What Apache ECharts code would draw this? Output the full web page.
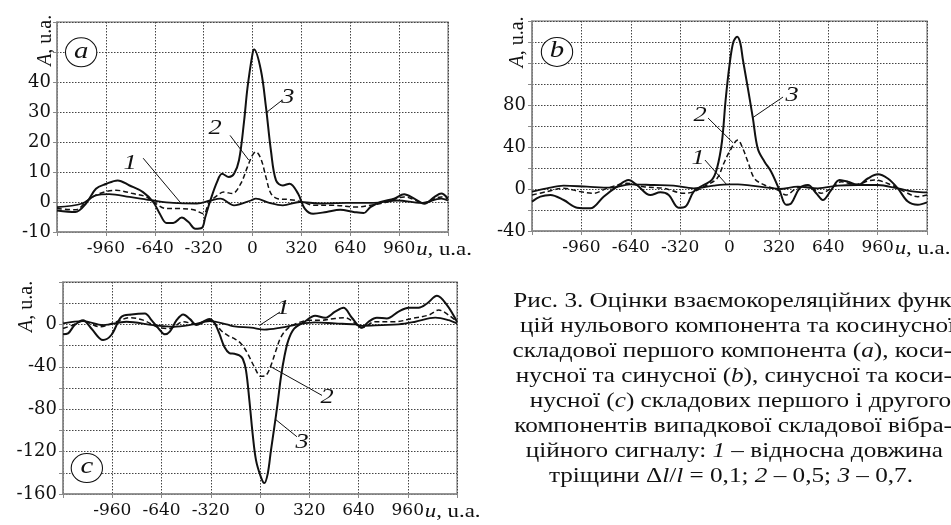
<!DOCTYPE html>
<html>
<head>
<meta charset="utf-8">
<script src="https://cdn.jsdelivr.net/npm/echarts@6/dist/echarts.min.js"></script>
<style>
html, body { margin: 0; padding: 0; background: #fff; }
#main { width: 951px; height: 525px; }
</style>
</head>
<body>
<div id="main"></div>
<script>
// вісь u, u.a. (однакова для всіх панелей)
var xMin = -1280, xMax = 1280, xStep = 320;
var xLabels = [-960, -640, -320, 0, 320, 640, 960];

// панель (a)
var yLabA = [-10, 0, 10, 20, 30, 40];
var a1 = [[-1280,-1.7],[-1115,-0.5],[-1026,2.2],[-938,2.6],[-805,1.7],[-650,0.5],[-519,-0.3],[-364,-0.5],[-276,0.5],[-210,1.1],[-121,-1.1],[-11,0.5],[22,1.1],[110,-0.3],[198,-1.1],[309,0],[441,-0.5],[618,-0.3],[795,-0.3],[949,0.5],[1103,-0.3],[1236,1.1],[1280,0.5]];
var a2 = [[-1280,-2.2],[-1160,-2.6],[-1081,0.5],[-1004,2.8],[-894,3.9],[-783,2.8],[-695,1.7],[-640,-0.3],[-563,-2.2],[-474,-2.2],[-386,-2.6],[-320,-3.9],[-287,-0.5],[-243,1.7],[-188,3.3],[-132,2.8],[-77,6.1],[-33,11.7],[0,15.6],[22,16.7],[55,14.4],[88,8.3],[121,2.8],[165,1.1],[243,0.8],[331,0],[397,-1.1],[530,-1.1],[684,-1.7],[772,-1.1],[883,0],[993,1.7],[1125,-0.3],[1236,1.7],[1280,1.1]];
var a3 = [[-1280,-2.8],[-1160,-3.3],[-1090,-0.5],[-1025,4.4],[-960,6],[-883,7.2],[-805,5.5],[-717,3.3],[-650,0],[-607,-3.9],[-563,-7],[-519,-7],[-463,-5.2],[-419,-6.7],[-375,-8.9],[-331,-8.6],[-309,-5],[-276,0.5],[-232,6.7],[-199,9.4],[-155,8.3],[-121,9.4],[-88,14],[-55,27],[-33,38],[0,49.4],[11,50.8],[55,43.9],[88,31.7],[121,17],[154,7.2],[198,5.5],[243,6.1],[298,2.8],[342,-2.2],[397,-3.9],[485,-3.3],[574,-2.6],[662,-3.3],[728,-3.7],[772,-1.7],[839,0],[927,1.1],[993,2.6],[1059,1.1],[1125,-0.6],[1192,1.7],[1236,2.8],[1280,1.1]];

// панель (b)
var yLabB = [-40, 0, 40, 80];
var b1 = [[-1280,-2.5],[-1183,0.6],[-1075,3.2],[-924,2.2],[-772,1.3],[-643,4.4],[-492,3.8],[-362,3.2],[-232,0.6],[-103,3.2],[0,4.4],[54,4.4],[140,3.2],[248,1.3],[324,0],[443,2.2],[572,0.6],[702,3.2],[832,3.8],[961,3.8],[1091,0.6],[1199,-2.5],[1280,-3.2]];
var b2 = [[-1280,-5.7],[-1183,-2.5],[-1075,0.6],[-967,-2.5],[-880,-4],[-794,0.6],[-665,5.4],[-557,2.2],[-427,0.6],[-297,-4],[-232,-2.5],[-146,3.8],[-81,10],[-38,24],[0,35.6],[54,46.7],[86,38.7],[119,26],[162,10],[227,3.8],[313,-1],[367,-5.7],[432,0.6],[508,3.2],[594,-4],[659,0.6],[724,7],[810,4.4],[940,8.6],[1048,3.8],[1134,-2.5],[1220,-7.3],[1280,-5.7]];
var b3 = [[-1280,-12],[-1226,-7.3],[-1161,-5.7],[-1075,-10.5],[-988,-17.8],[-902,-18.4],[-816,-7.3],[-729,2.2],[-654,8.6],[-600,3.8],[-513,-5.7],[-448,-3.2],[-394,-5.7],[-330,-17.8],[-286,-16.8],[-232,-2.5],[-168,3.8],[-114,8.6],[-81,19.7],[-49,45],[-25,85],[0,118],[25,140],[50,145],[70,139],[86,124],[119,96],[151,68],[184,38],[227,26],[270,16.5],[324,-1],[367,-15],[400,-13.7],[454,0.6],[508,3.8],[562,-4],[605,-10.5],[659,-1],[713,8.6],[767,7],[832,3.8],[896,10],[961,14],[1026,10],[1091,0.6],[1156,-12],[1220,-15],[1280,-12.7]];

// панель (c)
var yLabC = [-160, -120, -80, -40, 0];
var c1 = [[-1280,0.9],[-1150,3.1],[-1020,-0.6],[-868,2.5],[-694,-0.6],[-564,-2.2],[-434,0],[-325,3.1],[-217,0],[-166,-1.9],[-58,-3.1],[28,-5],[136,-3.1],[244,0],[358,1.9],[488,0.9],[618,0],[662,-1.3],[792,-0.6],[900,0],[1009,2.5],[1139,6.3],[1226,4],[1280,0.9]];
var c2 = [[-1280,-3.8],[-1215,-0.6],[-1150,3.1],[-1041,-2.2],[-933,2.5],[-846,6.3],[-759,4],[-651,-3.1],[-586,-3.8],[-499,2.5],[-412,0],[-325,4],[-296,1.3],[-253,-5.7],[-210,-10.4],[-166,-13.5],[-123,-18.2],[-80,-27.7],[-37,-40],[6,-49],[39,-48],[71,-38.7],[104,-24.5],[136,-12],[179,-4],[233,0.6],[326,4],[401,4],[488,5.6],[553,6.3],[618,1],[662,-3.1],[749,2.5],[879,2.5],[987,5.6],[1096,8.8],[1161,13.5],[1226,8.8],[1280,2.5]];
var c3 = [[-1280,-9.4],[-1247,-8.5],[-1204,-0.6],[-1150,4],[-1096,-3.8],[-1020,-14.7],[-966,-10],[-900,7.2],[-835,9.4],[-748,10.3],[-705,4],[-651,-5.3],[-618,-9.4],[-586,-6.9],[-542,4],[-499,9.4],[-455,5],[-412,-0.6],[-369,2.5],[-330,5],[-296,1.3],[-264,-8.8],[-231,-21.4],[-199,-27],[-166,-27.7],[-134,-29.2],[-112,-32.4],[-91,-43.4],[-69,-71.7],[-48,-103],[-26,-128],[6,-144],[28,-149.7],[50,-141],[71,-119],[93,-97],[114,-75],[136,-49.7],[158,-30.8],[184,-15],[222,-4],[287,2.2],[358,8.2],[423,6.3],[488,12],[542,15.7],[597,6.3],[662,-3.1],[705,2.5],[759,6.3],[824,5.6],[900,12],[966,15.7],[1031,15.7],[1085,19.7],[1150,27],[1215,18.2],[1280,2.5]];

// номери кривих: текст, позиція тексту, початок і кінець виноски
var notesA = [['1', [-801,12.9], [-716,14.6], [-470,-0.3]], ['2', [-245,24.6], [-147,22.2], [-25,14]], ['3', [232,34.9], [193,33.9], [95,30]]];
var notesB = [['1', [-204,29.5], [-159,27.6], [-16,3.8]], ['2', [-191,70.5], [-139,67.6], [23,44]], ['3', [405,89.5], [347,87.6], [151,68]]];
var notesC = [['1', [150,15.5], [130,11.7], [-4,-1]], ['2', [436,-69], [403,-67], [71,-40]], ['3', [273,-111], [240,-106], [104,-90]]];
var tagPos = [[-1122,49.9], [-1118,130.5], [-1125,-135.5]];
var tagText = ['a', 'b', 'c'];

var caption = [
    'Рис. 3. Оцінки взаємокореляційних функ-',
    'цій нульового компонента та косинусної',
    'складової першого компонента ({i|a}), коси-',
    'нусної та синусної ({i|b}), синусної та коси-',
    'нусної ({i|c}) складових першого і другого',
    'компонентів випадкової складової вібра-',
    'ційного сигналу: {i|1} – відносна довжина',
    'тріщини Δ{i|l}/{i|l} = 0,1; {i|2} – 0,5; {i|3} – 0,7.'
];
var captionRight = [960, 955, 952, 952, 951, 952, 943, 913];

var NUM_FONT = '"DejaVu Serif", serif';
var TXT_FONT = '"Liberation Serif", "Times New Roman", serif';
var WIDE = 1.2; // оригінал трохи розтягнутий по горизонталі

var chart = echarts.init(document.getElementById('main'));

var grids = [
    { left: 57, top: 22, width: 391, height: 210 },
    { left: 532, top: 21, width: 395, height: 210 },
    { left: 63, top: 282, width: 394, height: 212 }
];
grids.forEach(function (g) {
    g.show = true;
    g.borderColor = '#9a9a9a';
    g.borderWidth = 1.5;
    g.backgroundColor = 'transparent';
});

function makeX(i) {
    return {
        type: 'value', gridIndex: i, min: xMin, max: xMax, interval: xStep,
        axisLine: { show: true, onZero: false, lineStyle: { color: '#8a8a8a', width: 1.5 } },
        axisTick: { show: true, length: 4, lineStyle: { color: '#8a8a8a' } },
        axisLabel: {
            margin: 8, color: '#111', fontFamily: NUM_FONT, fontSize: 17,
            formatter: function (v) { return xLabels.indexOf(v) >= 0 ? String(v) : ''; }
        },
        splitLine: { show: true, lineStyle: { color: '#444', type: [1.5, 1.5], width: 1 } }
    };
}
function makeY(i, min, max, step, labels) {
    return {
        type: 'value', gridIndex: i, min: min, max: max, interval: step,
        axisLine: { show: true, onZero: false, lineStyle: { color: '#8a8a8a', width: 1.5 } },
        axisTick: { show: true, length: 4, lineStyle: { color: '#8a8a8a' } },
        axisLabel: {
            margin: 6, color: '#111', fontFamily: NUM_FONT, fontSize: 18,
            formatter: function (v) { return labels.indexOf(v) >= 0 ? String(v) : ''; }
        },
        splitLine: { show: true, lineStyle: { color: '#444', type: [1.5, 1.5], width: 1 } }
    };
}

function curve(i, data, kind) {
    var ls = { color: '#111', width: 1.8, type: 'solid' };
    if (kind == 2) { ls.width = 1.5; ls.type = [5, 3]; }
    if (kind == 3) { ls.width = 2; }
    return {
        type: 'line', xAxisIndex: i, yAxisIndex: i, data: data,
        showSymbol: false, smooth: 0.35, lineStyle: ls, silent: true, animation: false
    };
}

chart.setOption({
    animation: false,
    grid: grids,
    xAxis: [makeX(0), makeX(1), makeX(2)],
    yAxis: [makeY(0, -10, 60, 10, yLabA), makeY(1, -40, 160, 20, yLabB), makeY(2, -160, 40, 20, yLabC)],
    series: [
        curve(0, a1, 1), curve(0, a2, 2), curve(0, a3, 3),
        curve(1, b1, 1), curve(1, b2, 2), curve(1, b3, 3),
        curve(2, c1, 1), curve(2, c2, 2), curve(2, c3, 3)
    ]
});

// підписи, виноски, кружечки
var g = [];
function px(i, p) { return chart.convertToPixel({ gridIndex: i }, p); }
function txt(x, y, text, size, align, extra) {
    var el = {
        type: 'text', x: x, y: y, silent: true,
        style: {
            text: text, fill: '#111', font: size + 'px ' + TXT_FONT,
            align: align, textAlign: align, verticalAlign: 'middle', textVerticalAlign: 'middle',
            rich: { i: { fontStyle: 'italic', fontSize: size, fontFamily: TXT_FONT } }
        }
    };
    if (extra) for (var k in extra) el[k] = extra[k];
    return el;
}

[notesA, notesB, notesC].forEach(function (notes, i) {
    notes.forEach(function (n) {
        var t = px(i, n[1]), p1 = px(i, n[2]), p2 = px(i, n[3]);
        g.push({ type: 'line', silent: true, shape: { x1: p1[0], y1: p1[1], x2: p2[0], y2: p2[1] }, style: { stroke: '#111', lineWidth: 1 } });
        g.push(txt(t[0], t[1], '{i|' + n[0] + '}', 22, 'center', { scaleX: WIDE }));
    });
    var c = px(i, tagPos[i]);
    g.push({ type: 'circle', silent: true, x: c[0], y: c[1], scaleX: 1.08, shape: { cx: 0, cy: 0, r: 14.5 }, style: { fill: '#fff', stroke: '#111', lineWidth: 1 } });
    g.push(txt(c[0], c[1] - 1, '{i|' + tagText[i] + '}', 24, 'center', { scaleX: WIDE }));

    // назва осі A, u.a.
    var gr = grids[i];
    var ty = [53.9, 140, 17][i];
    var yp = px(i, [xMin, ty]);
    var dx = [11, 14, 36][i];
    g.push(txt(gr.left - dx, yp[1], '{i|A}, u.a.', 20, 'center', { rotation: Math.PI / 2 }));

    // назва осі u, u.a.
    var xp = px(i, [960, [-10, -40, -160][i]]);
    g.push(txt(xp[0] + 17, xp[1] + 18, '{i|u}, u.a.', 19, 'left', { scaleX: WIDE }));
});

caption.forEach(function (line, k) {
    g.push(txt(captionRight[k], 301 + k * 25, line, 21, 'right', { scaleX: WIDE }));
});

chart.setOption({ graphic: g });
</script>
</body>
</html>
